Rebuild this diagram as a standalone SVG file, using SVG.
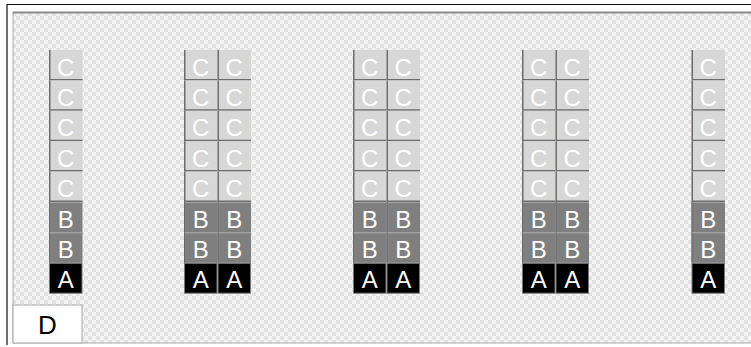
<svg xmlns="http://www.w3.org/2000/svg" width="751" height="347" viewBox="0 0 751 347">
<defs>
<pattern id="chk" width="8" height="8" patternUnits="userSpaceOnUse">
<rect width="8" height="8" fill="#f4f4f4"/>
<rect width="4" height="4" fill="#e2e2e2"/>
<rect x="4" y="4" width="4" height="4" fill="#e2e2e2"/>
</pattern>
<g id="cC">
<rect width="33.5" height="30.4" fill="#d7d7d7"/>
<path d="M0.75,0 V29.65 H33.5" fill="none" stroke="#6c6c6c" stroke-width="1.5"/>
<text x="16.75" y="25.5" class="lt">C</text>
</g>
<g id="cB">
<rect width="33.5" height="30.4" fill="#7f7f7f"/>
<path d="M0,0.5 H33.5" stroke="#a6a6a6" stroke-width="1"/>
<path d="M0.5,0 V30.4" stroke="#6a6a6a" stroke-width="1"/>
<text x="16.75" y="25.5" class="lt">B</text>
</g>
<g id="cA">
<rect x="0.5" y="0.5" width="32.5" height="29.9" fill="#000" stroke="#777" stroke-width="1"/>
<text x="16.75" y="25.5" class="lt">A</text>
</g>
<g id="stack">
<use href="#cC" y="50"/>
<use href="#cC" y="80.4"/>
<use href="#cC" y="110.8"/>
<use href="#cC" y="141.2"/>
<use href="#cC" y="171.6"/>
<use href="#cB" y="202"/>
<use href="#cB" y="232.4"/>
<use href="#cA" y="262.8"/>
</g>
</defs>
<style>
.lt{font-family:"Liberation Sans",Arial,sans-serif;font-size:24px;fill:#ffffff;text-anchor:middle}
.dt{font-family:"Liberation Sans",Arial,sans-serif;font-size:26px;fill:#000000;text-anchor:middle}
</style>
<rect width="751" height="347" fill="#ffffff"/>
<path d="M7,345 V4.5 H751" fill="none" stroke="#111" stroke-width="1.2"/>
<rect x="13" y="12.5" width="745" height="330.5" fill="url(#chk)" stroke="#a8a8a8" stroke-width="1"/>
<path d="M13,12.5 H751" stroke="#8a8a8a" stroke-width="2"/>
<g id="col1"><use href="#stack" x="49"/></g>
<g id="col2"><use href="#stack" x="184"/><use href="#stack" x="217.5"/></g>
<g id="col3"><use href="#stack" x="353"/><use href="#stack" x="386.5"/></g>
<g id="col4"><use href="#stack" x="522"/><use href="#stack" x="555.5"/></g>
<g id="col5"><use href="#stack" x="691.5"/></g>
<g id="nodeD">
<rect x="13" y="305" width="69" height="38" fill="#ffffff" stroke="#a8a8a8" stroke-width="1"/>
<text x="47.5" y="333.5" class="dt">D</text>
</g>
</svg>
